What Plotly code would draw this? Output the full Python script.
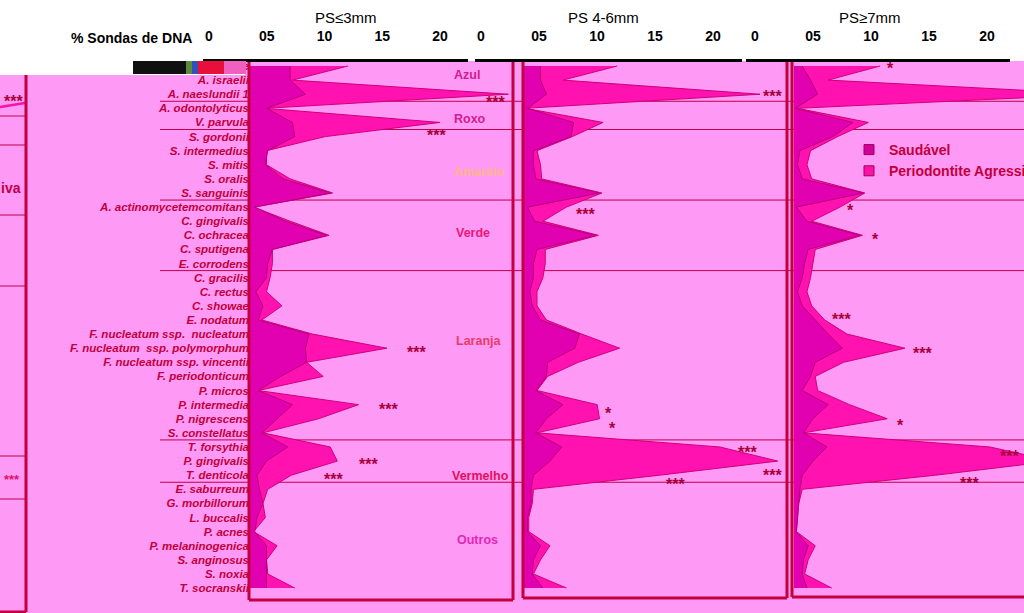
import plotly.graph_objects as go

W, H = 1024, 613
def px(x): return x / W
def py(y): return 1 - y / H

species = ["A. gerencseriae", "A. israelii", "A. naeslundii 1", "A. odontolyticus", "V. parvula",
           "S. gordonii", "S. intermedius", "S. mitis", "S. oralis", "S. sanguinis",
           "A. actinomycetemcomitans", "C. gingivalis", "C. ochracea", "C. sputigena", "E. corrodens",
           "C. gracilis", "C. rectus", "C. showae", "E. nodatum", "F. nucleatum ssp.  nucleatum",
           "F. nucleatum  ssp. polymorphum", "F. nucleatum ssp. vincentii", "F. periodonticum", "P. micros",
           "P. intermedia", "P. nigrescens", "S. constellatus", "T. forsythia", "P. gingivalis",
           "T. denticola", "E. saburreum", "G. morbillorum", "L. buccalis", "P. acnes",
           "P. melaninogenica", "S. anginosus", "S. noxia", "T. socranskii"]

panel_titles = ["PS≤3mm", "PS 4-6mm", "PS≥7mm"]
tick_vals = [0, 5, 10, 15, 20]
tick_text = ["0", "05", "10", "15", "20"]

# % DNA probes – Periodontite Agressiva
p1_perio = [8.3, 3.6, 21.9, 1.3, 16.1, 6.4, 1.4, 1.4, 3.4, 7.0, 0.3, 3.4, 6.7, 1.9, 1.9, 1.7, 1.4, 2.7, 1.0,
            5.3, 11.6, 4.8, 6.2, 0.7, 9.2, 5.8, 1.1, 6.8, 7.4, 3.5, 1.5, 1.1, 1.3, 0.3, 2.3, 1.4, 1.5, 3.8]
p2_perio = [7.9, 3.3, 20.0, 0.1, 6.7, 4.1, 1.1, 1.4, 1.5, 6.6, 3.6, 1.6, 6.3, 1.8, 1.8, 1.6, 1.1, 1.1, 1.9,
            4.9, 8.1, 4.6, 2.0, 1.1, 6.2, 6.4, 1.1, 16.6, 21.5, 11.5, 0.8, 0.7, 0.4, 0.4, 2.2, 1.4, 0.8, 3.6]
p3_perio = [7.3, 2.9, 26.0, 0.3, 6.3, 3.7, 1.4, 1.1, 1.5, 6.0, 3.9, 1.5, 5.8, 1.8, 1.6, 1.4, 1.1, 1.5, 2.6,
            4.5, 9.4, 4.2, 1.8, 2.0, 4.7, 7.9, 0.8, 16.6, 22.0, 12.0, 0.7, 0.4, 0.3, 0.2, 1.8, 1.2, 0.9, 3.2]
# % DNA probes – Saudável
p1_health = [3.4, 3.4, 4.7, 1.4, 3.6, 3.8, 1.5, 1.3, 2.8, 6.8, 0.4, 3.0, 6.5, 1.9, 1.5, 1.4, 0.5, 1.1, 0.7,
             5.0, 4.7, 4.8, 2.6, 0.7, 3.6, 2.3, 1.0, 3.2, 1.4, 0.6, 0.8, 1.1, 0.6, 0.4, 1.4, 1.4, 1.4, 1.4]
p2_health = [1.4, 1.4, 1.9, 0.3, 4.2, 4.0, 0.8, 0.8, 1.0, 6.4, 0.3, 0.9, 6.1, 1.1, 0.8, 0.8, 0.5, 0.7, 1.4,
             4.7, 4.3, 2.0, 1.9, 1.0, 3.3, 1.9, 1.0, 3.2, 2.2, 0.8, 0.6, 0.6, 0.3, 0.3, 1.4, 0.8, 0.7, 1.6]
p3_health = [0.7, 1.4, 2.0, 0.1, 5.0, 3.3, 0.5, 0.3, 0.7, 5.9, 0.2, 1.1, 5.6, 1.2, 0.9, 0.7, 0.3, 0.7, 1.8,
             2.9, 4.1, 1.8, 1.4, 0.7, 2.9, 1.6, 0.8, 2.8, 1.6, 0.7, 0.5, 0.4, 0.3, 0.2, 1.2, 0.8, 0.7, 1.1]

# significance marks: (row, text)
p1_sig = [(2, "***"), (4, "***"), (20, "***"), (24, "***"), (28, "***"), (29, "***")]
p2_sig = [(2, "***"), (10, "***"), (24, "*"), (25, "*"), (27, "***"), (28, "***"), (29, "***")]
p3_sig = [(0, "*"), (10, "*"), (12, "*"), (18, "***"), (20, "***"), (25, "*"), (27, "***"), (29, "***")]

groups = ["Azul", "Roxo", "Amarelo", "Verde", "Laranja", "Vermelho", "Outros"]
group_breaks = [2.5, 4.5, 9.5, 14.5, 26.5, 29.5]

PINK_BG = "#FF99F6"
BRIGHT = "#FF12B0"
CRIMSON = "#C0003C"
rows = list(range(len(species)))

fig = go.Figure()

data_axes = ["x", "x2", "x3"]
perio_all = [p1_perio, p2_perio, p3_perio]
health_all = [p1_health, p2_health, p3_health]
for ax, pv, hv in zip(data_axes, perio_all, health_all):
    fig.add_trace(go.Scatter(x=pv, y=rows, xaxis=ax, yaxis="y", mode="lines", fill="tozerox",
                             fillcolor=BRIGHT, line=dict(color="#D0007A", width=1), showlegend=False,
                             hoverinfo="skip"))
    fig.add_trace(go.Scatter(x=hv, y=rows, xaxis=ax, yaxis="y", mode="lines", fill="tozerox",
                             fillcolor="rgba(222,0,176,0.9)", line=dict(color="#B8007A", width=1),
                             showlegend=False, hoverinfo="skip"))

# dummy traces for tick axes
for ax in ["x4", "x5", "x6"]:
    fig.add_trace(go.Scatter(x=[None], y=[None], xaxis=ax, yaxis="y", showlegend=False))

# legend
fig.add_trace(go.Scatter(x=[None], y=[None], xaxis="x3", yaxis="y", mode="markers", name="Saudável",
                         marker=dict(symbol="square", size=10, color="#D0009C", line=dict(color="#A0005A", width=1))))
fig.add_trace(go.Scatter(x=[None], y=[None], xaxis="x3", yaxis="y", mode="markers", name="Periodontite Agressiva",
                         marker=dict(symbol="square", size=10, color="#FF10A8", line=dict(color="#A0005A", width=1))))

UNIT = 11.8
r1 = -66 / 14.11
r0 = r1 + H / 14.11

label_font = dict(family="Liberation Sans, Arial, sans-serif", size=11.5, color=CRIMSON, weight="bold", style="italic")
tick_font = dict(family="Liberation Sans Narrow, Arial Narrow, Liberation Sans, Arial", size=14, color="black", weight="bold")

layout = dict(
    width=W, height=H, autosize=False,
    margin=dict(l=0, r=0, t=0, b=0, pad=0, autoexpand=False),
    paper_bgcolor="white", plot_bgcolor="rgba(0,0,0,0)",
    yaxis=dict(domain=[0, 1], range=[r0, r1], anchor="free", position=px(250), side="left",
               tickvals=rows, ticktext=species, tickfont=label_font, showgrid=False, zeroline=False,
               showline=False, ticks="", ticklabelstandoff=1, automargin=False),
    xaxis=dict(domain=[px(250), px(513)], range=[0, 263 / UNIT], visible=False, anchor="y"),
    xaxis2=dict(domain=[px(524), px(787)], range=[0, 263 / UNIT], visible=False, anchor="y"),
    xaxis3=dict(domain=[px(794), 1.0], range=[0, 230 / UNIT], visible=False, anchor="y"),
    showlegend=True,
    legend=dict(x=px(849), y=py(134), xanchor="left", yanchor="top", bgcolor="rgba(0,0,0,0)",
                font=dict(family="Liberation Sans, Arial", size=14, color=CRIMSON, weight="bold"),
                itemwidth=30, tracegroupgap=0),
)
tick_specs = [("xaxis4", 203, 468, 209, 11.55), ("xaxis5", 475, 742, 481, 11.6), ("xaxis6", 746, 1010, 755, 11.6)]
for name, d0, d1, zero, unit in tick_specs:
    layout[name] = dict(domain=[px(d0), px(d1)], range=[(d0 - zero) / unit, (d1 - zero) / unit],
                        anchor="free", position=py(60), side="top", showline=True, linecolor="black",
                        linewidth=3, ticks="", tickvals=tick_vals, ticktext=tick_text, tickfont=tick_font,
                        showgrid=False, zeroline=False, ticklabelstandoff=12, automargin=False)
fig.update_layout(**layout)

shapes = []
# pink backgrounds
shapes.append(dict(type="rect", xref="paper", yref="paper", x0=0, x1=1, y0=0, y1=py(75), fillcolor=PINK_BG,
                   line=dict(width=0), layer="below"))
shapes.append(dict(type="rect", xref="paper", yref="paper", x0=px(245), x1=1, y0=py(75), y1=py(61),
                   fillcolor=PINK_BG, line=dict(width=0), layer="below"))
# group separators
for b in group_breaks:
    shapes.append(dict(type="line", xref="paper", yref="y", x0=px(160), x1=1, y0=b, y1=b,
                       line=dict(color="#C0004A", width=1), layer="below"))
# left strip lines
for yy in [116, 145, 215, 286, 456, 499]:
    shapes.append(dict(type="line", xref="paper", yref="paper", x0=0, x1=px(26), y0=py(yy), y1=py(yy),
                       line=dict(color="#C0004A", width=1), layer="below"))
shapes.append(dict(type="line", xref="paper", yref="paper", x0=0, x1=px(25), y0=py(107), y1=py(103),
                   line=dict(color="#FF10A8", width=2.5), layer="above"))
BOX = "#C4003E"
def seg(x0, y0, x1, y1, w=3):
    shapes.append(dict(type="line", xref="paper", yref="paper", x0=px(x0), x1=px(x1), y0=py(y0), y1=py(y1),
                       line=dict(color=BOX, width=w), layer="above"))
seg(26, 75, 26, 612); seg(0, 612, 26, 612)
seg(249, 62, 249, 600); seg(249, 600, 513, 600); seg(513, 62, 513, 600)
seg(523, 62, 523, 598); seg(523, 598, 787, 598); seg(787, 62, 787, 598)
seg(792, 62, 792, 597); seg(792, 597, 1024, 597)
# obscured patch on the first label
for x0, x1, c in [(133, 186, "#101010"), (186, 192, "#5A8A3A"), (192, 198, "#3050C0"),
                  (198, 224, "#E8103A"), (224, 246, "#F060C0")]:
    shapes.append(dict(type="rect", xref="paper", yref="paper", x0=px(x0), x1=px(x1), y0=py(74), y1=py(61),
                       fillcolor=c, line=dict(width=0), layer="above"))
fig.update_layout(shapes=shapes)

ann = []
def pann(text, x, y, font):
    ann.append(dict(text=text, x=px(x), y=py(y), xref="paper", yref="paper", showarrow=False,
                    xanchor="center", yanchor="middle", font=font))
# titles
for t, cx in zip(panel_titles, [346, 603, 870]):
    pann(t, cx, 18, dict(family="Liberation Sans, Arial", size=15, color="black"))
pann("% Sondas de DNA", 131, 38, tick_font)
# group labels
g_pos = [(467, 75), (470, 119), (479, 172), (473, 233), (479, 341), (480, 476), (477, 540)]
g_col = ["#D01C8E", "#D01C8E", "#FFB488", "#E8187A", "#E83C6A", "#E0105A", "#E028B4"]
for g, (gx, gy), c in zip(groups, g_pos, g_col):
    pann(g, gx, gy, dict(family="Liberation Sans, Arial", size=12.5, color=c, weight="bold"))
# significance
star_font = dict(family="Liberation Sans, Arial", size=16, color="#A8003A", weight="bold")
offsets = {
    ("x", 2): (-13, 3), ("x", 4): (-3, 8), ("x", 20): (30, -1), ("x", 24): (30, 0), ("x", 28): (31, -2),
    ("x", 29): (42, -1),
    ("x2", 2): (12, -3), ("x2", 10): (19, 2), ("x2", 24): (11, 4), ("x2", 25): (13, 5), ("x2", 27): (28, 1),
    ("x2", 28): (-5, 9), ("x2", 29): (16, 4),
    ("x3", 0): (10, -3), ("x3", 10): (10, -2), ("x3", 12): (13, -1), ("x3", 18): (17, -5), ("x3", 20): (18, 0),
    ("x3", 25): (13, 2), ("x3", 27): (20, 5), ("x3", 29): (34, 3),
}
for ax, sigs, pv in zip(data_axes, [p1_sig, p2_sig, p3_sig], perio_all):
    for r, t in sigs:
        dx, dy = offsets[(ax, r)]
        ann.append(dict(text=t, x=pv[r], y=r, xref=ax, yref="y", showarrow=False, xanchor="center",
                        yanchor="middle", xshift=dx, yshift=-(dy + 5), font=star_font))
# left strip
ann.append(dict(text="***", x=px(13), y=py(102), xref="paper", yref="paper", showarrow=False,
                xanchor="center", yanchor="middle", font=star_font))
pann("iva", 11, 188, dict(family="Liberation Sans, Arial", size=14, color="#C0004A", weight="bold"))
pann("***", 12, 479, dict(family="Liberation Sans, Arial", size=13, color="#E0106A", weight="bold"))
fig.update_layout(annotations=ann)

fig.write_html("out.html", config={"displayModeBar": False},
               post_script="document.body.style.margin='0';document.body.style.overflow='hidden';")
